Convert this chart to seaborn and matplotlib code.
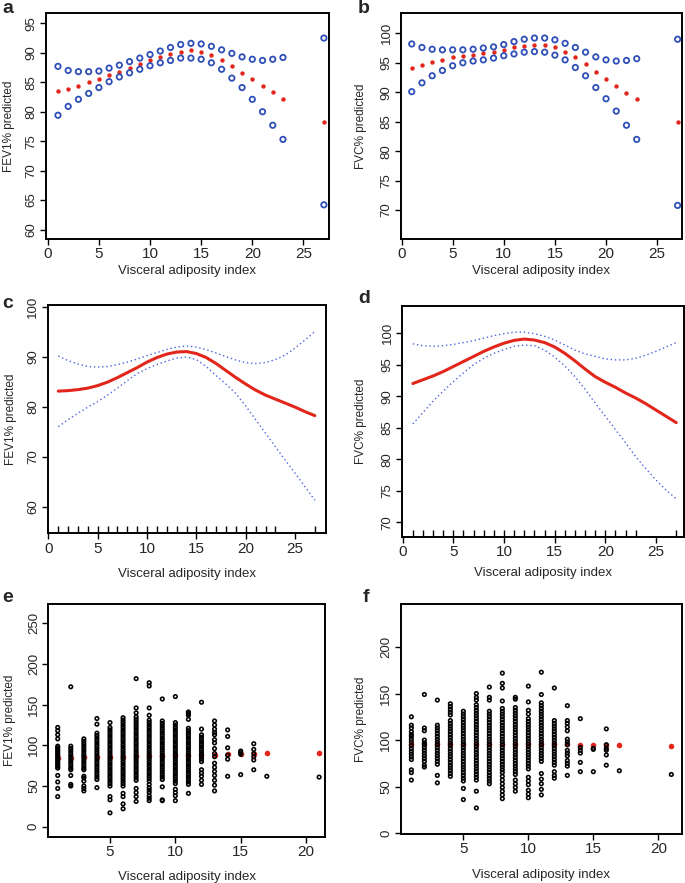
import numpy as np
import pandas as pd
import matplotlib
matplotlib.use("Agg")
import matplotlib.pyplot as plt
import seaborn as sns

sns.set_style("ticks")
plt.rcParams['font.family'] = ['Liberation Sans', 'DejaVu Sans']

RED = "#e3261c"
BLUE = "#2f4fb8"
DOT_BLUE = "#4a64e0"

# ---- panels a / b : estimate and 95% bounds at each VAI value
vai_pts = [1, 2, 3, 4, 5, 6, 7, 8, 9, 10, 11, 12, 13, 14, 15, 16, 17, 18, 19, 20, 21, 22, 23, 27]
fev_hi = [87.7, 87.0, 86.8, 86.8, 86.9, 87.4, 87.9, 88.5, 89.1, 89.7, 90.3, 90.9, 91.4, 91.6, 91.5, 91.1, 90.5, 89.9, 89.3, 88.9, 88.7, 88.9, 89.2, 92.5]
fev_fit = [83.5, 83.9, 84.4, 85.0, 85.5, 86.2, 86.8, 87.4, 88.1, 88.7, 89.2, 89.8, 90.2, 90.4, 90.2, 89.6, 88.8, 87.8, 86.6, 85.5, 84.4, 83.3, 82.2, 78.3]
fev_lo = [79.4, 80.9, 82.1, 83.1, 84.1, 85.1, 85.9, 86.6, 87.2, 87.8, 88.3, 88.7, 89.1, 89.1, 88.9, 88.3, 87.2, 85.7, 84.1, 82.1, 80.0, 77.7, 75.3, 64.2]
fvc_hi = [98.2, 97.6, 97.3, 97.2, 97.2, 97.2, 97.3, 97.5, 97.7, 98.1, 98.6, 99.0, 99.2, 99.2, 98.9, 98.3, 97.6, 96.8, 96.0, 95.5, 95.3, 95.4, 95.7, 99.0]
fvc_fit = [94.1, 94.6, 95.1, 95.5, 95.9, 96.1, 96.4, 96.6, 96.9, 97.2, 97.6, 97.9, 98.1, 98.0, 97.6, 96.9, 95.9, 94.8, 93.5, 92.3, 91.1, 89.9, 88.9, 84.9]
fvc_lo = [90.1, 91.6, 92.8, 93.7, 94.5, 95.0, 95.3, 95.5, 95.8, 96.2, 96.5, 96.8, 96.9, 96.8, 96.3, 95.5, 94.2, 92.8, 90.8, 88.9, 86.8, 84.4, 82.0, 70.8]

# ---- panels c / d : smooth curve with dotted confidence band
vai_curve = list(range(1, 28))
fev_curve = [83.1, 83.2, 83.4, 83.7, 84.2, 84.9, 85.8, 86.8, 87.8, 88.9, 89.8, 90.5, 90.9, 91.0, 90.6, 89.8, 88.6, 87.2, 85.8, 84.5, 83.3, 82.3, 81.5, 80.7, 79.9, 79.0, 78.2]
fev_curve_hi = [90.1, 89.2, 88.5, 88.0, 87.9, 88.0, 88.4, 88.9, 89.5, 90.2, 90.8, 91.4, 91.9, 92.1, 91.9, 91.4, 90.7, 90.0, 89.3, 88.8, 88.6, 88.8, 89.4, 90.3, 91.7, 93.3, 95.0]
fev_curve_lo = [76.0, 77.4, 78.7, 79.9, 81.0, 82.3, 83.7, 85.2, 86.6, 87.6, 88.4, 89.1, 89.7, 89.9, 89.4, 88.0, 86.2, 84.5, 82.6, 80.1, 77.4, 74.7, 72.0, 69.3, 66.7, 64.0, 61.3]
fvc_curve = [92.0, 92.6, 93.2, 93.9, 94.7, 95.5, 96.3, 97.1, 97.8, 98.4, 98.85, 99.05, 98.9, 98.5, 97.8, 96.8, 95.6, 94.3, 93.1, 92.2, 91.4, 90.5, 89.7, 88.8, 87.8, 86.8, 85.8]
fvc_curve_hi = [98.3, 98.0, 97.9, 98.0, 98.2, 98.5, 98.8, 99.2, 99.6, 99.9, 100.15, 100.15, 99.9, 99.5, 98.9, 98.1, 97.3, 96.7, 96.3, 95.9, 95.75, 95.75, 96.0, 96.5, 97.1, 97.8, 98.5]
fvc_curve_lo = [85.6, 87.4, 89.2, 90.8, 92.3, 93.7, 95.0, 96.0, 96.8, 97.4, 97.9, 98.1, 98.0, 97.3, 96.2, 94.8, 93.1, 91.1, 88.9, 86.8, 84.7, 82.6, 80.4, 78.5, 76.7, 75.1, 73.7]
vai_rug = [1, 2, 3, 4, 5, 6, 7, 8, 9, 10, 11, 12, 13, 14, 15, 16, 17, 18, 19, 20, 21, 22, 23, 27]

# ---- panels e / f : raw observations per VAI value and fitted means
vai_obs = [1, 2, 3, 4, 5, 6, 7, 8, 9, 10, 11, 12, 13, 14, 15, 16, 17, 21]
fev_obs = [
    [122, 118, 113, 108, 99, 97, 95, 93, 91, 89, 87, 85, 83, 81, 79, 77, 75, 73, 72, 63, 55, 47, 37],
    [172, 99, 96, 93, 90, 87, 84, 81, 78, 75, 72, 70, 63, 52, 50],
    [108, 105, 102, 99, 96, 93, 90, 87, 84, 81, 78, 75, 72, 70, 62, 60, 56, 50, 47, 44],
    [133, 126, 115, 112, 109, 106, 103, 100, 97, 94, 91, 88, 85, 82, 79, 76, 73, 70, 67, 64, 61, 58, 48],
    [128, 122, 119, 116, 113, 110, 107, 104, 101, 98, 95, 92, 89, 86, 83, 80, 77, 74, 71, 68, 65, 62, 59, 56, 53, 50, 37, 33, 17],
    [134, 131, 128, 125, 122, 119, 116, 113, 110, 107, 104, 101, 98, 95, 92, 89, 86, 83, 80, 77, 74, 71, 68, 65, 62, 59, 56, 53, 50, 41, 37, 28, 22],
    [182, 146, 140, 135, 132, 129, 126, 123, 120, 117, 114, 111, 108, 105, 102, 99, 96, 93, 90, 87, 84, 81, 78, 75, 72, 69, 66, 63, 60, 57, 47, 42, 37, 31],
    [177, 173, 146, 137, 131, 128, 125, 122, 119, 116, 113, 110, 107, 104, 101, 98, 95, 92, 89, 86, 83, 80, 77, 74, 71, 68, 65, 62, 59, 56, 52, 48, 45, 42, 38, 35, 32],
    [157, 130, 127, 124, 121, 118, 115, 112, 109, 106, 103, 100, 97, 94, 91, 88, 85, 82, 79, 76, 73, 70, 67, 64, 61, 58, 49, 33, 32],
    [160, 128, 125, 122, 119, 116, 113, 110, 107, 104, 101, 98, 95, 92, 89, 86, 83, 80, 77, 74, 71, 68, 65, 62, 59, 56, 53, 46, 42, 38, 32],
    [141, 139, 137, 132, 121, 118, 115, 112, 109, 106, 103, 100, 97, 94, 91, 88, 85, 82, 79, 76, 73, 70, 67, 64, 61, 58, 55, 52, 41],
    [153, 120, 113, 110, 107, 104, 101, 98, 95, 92, 89, 86, 83, 80, 70, 66, 62, 57, 52],
    [130, 125, 120, 116, 113, 107, 103, 96, 90, 86, 78, 73, 68, 63, 57, 51, 44],
    [119, 111, 97, 88, 83, 62],
    [93, 91, 89, 64],
    [102, 95, 90, 86, 82, 70],
    [62],
    [61],
]
fev_mean = [84.5, 85.0, 85.3, 85.6, 86.0, 86.3, 86.6, 87.0, 87.3, 87.6, 88.0, 88.3, 88.6, 89.0, 89.5, 89.8, 90.0, 91.0]

fvc_obs = [
    [125, 116, 113, 109, 106, 104, 101, 98, 94, 91, 88, 85, 82, 79, 68, 65, 57],
    [149, 113, 110, 100, 97, 95, 92, 89, 86, 83, 80, 77, 73, 71],
    [143, 116, 113, 110, 107, 104, 101, 98, 95, 92, 89, 86, 83, 80, 77, 74, 62, 54],
    [139, 136, 133, 130, 127, 121, 118, 115, 112, 109, 106, 103, 100, 97, 94, 91, 88, 85, 82, 79, 76, 73, 70, 67, 64, 61],
    [131, 128, 125, 122, 119, 116, 113, 110, 107, 104, 101, 98, 95, 92, 89, 86, 83, 80, 77, 74, 71, 68, 65, 62, 59, 56, 48, 36],
    [150, 146, 143, 138, 135, 132, 129, 126, 123, 120, 117, 114, 111, 108, 105, 102, 99, 96, 93, 90, 87, 84, 81, 78, 75, 72, 69, 66, 63, 60, 57, 45, 27],
    [157, 146, 143, 131, 128, 125, 122, 119, 116, 113, 110, 107, 104, 101, 98, 95, 92, 89, 86, 83, 80, 77, 74, 71, 68, 65, 62, 59, 56, 53],
    [172, 161, 156, 142, 134, 131, 128, 125, 122, 119, 116, 113, 110, 107, 104, 101, 98, 95, 92, 89, 86, 83, 80, 77, 74, 71, 68, 65, 61, 57, 53, 49, 45, 41, 37],
    [146, 144, 135, 132, 129, 126, 123, 120, 117, 114, 111, 108, 105, 102, 99, 96, 93, 90, 87, 84, 81, 78, 75, 72, 69, 66, 63, 57, 53, 49, 45],
    [158, 141, 132, 128, 123, 120, 117, 114, 111, 108, 105, 102, 99, 96, 93, 90, 87, 84, 81, 78, 75, 72, 69, 60, 56, 52, 46, 42, 38],
    [173, 149, 140, 137, 134, 131, 128, 125, 122, 119, 116, 113, 110, 107, 104, 101, 98, 95, 92, 89, 86, 83, 80, 77, 64, 58, 53, 47, 41],
    [156, 121, 118, 115, 112, 109, 106, 103, 100, 97, 94, 91, 88, 85, 82, 79, 76, 73, 66, 62, 59],
    [137, 121, 118, 114, 110, 101, 98, 95, 89, 86, 83, 78, 75, 72, 62],
    [123, 92, 89, 86, 76, 66],
    [91, 90, 66],
    [112, 95, 91, 89, 84, 73],
    [67],
    [63],
]
fvc_mean = [96.3, 96.3, 96.3, 96.3, 96.3, 96.2, 96.2, 96.2, 96.1, 96.1, 96.0, 96.0, 95.5, 95.0, 95.0, 95.0, 94.8, 94.0]

XLABEL = "Visceral adiposity index"


def long_form(xs, cols):
    rows = []
    for x, vals in zip(xs, cols):
        for v in vals:
            rows.append([x, v])
    return pd.DataFrame(rows, columns=["vai", "val"])


def r_style(ax, xlim, ylim, xticks, yticks, ylabel, xlab_y, ylab_x):
    ax.set_xlim(*xlim)
    ax.set_ylim(*ylim)
    ax.set_xticks(xticks)
    ax.set_yticks(yticks)
    for s in ax.spines.values():
        s.set_visible(True)
        s.set_linewidth(1.4)
        s.set_color("black")
    ax.tick_params(axis="both", direction="out", length=4.5, width=1.0, color="black", pad=1.5)
    ax.tick_params(axis="x", labelsize=11)
    ax.tick_params(axis="y", labelsize=9.5)
    for lab in ax.get_yticklabels():
        lab.set_rotation(90)
        lab.set_va("center")
    ax.set_xlabel(XLABEL, fontsize=9.5)
    ax.set_ylabel(ylabel, fontsize=8.5)
    ax.xaxis.set_label_coords(0.5, xlab_y)
    ax.yaxis.set_label_coords(ylab_x, 0.5)


fig = plt.figure(figsize=(6.85, 8.83), dpi=100)

# positions measured in pixels of a 685 x 883 canvas
def add_axes(l, t, r, b):
    return fig.add_axes([l / 685, 1 - b / 883, (r - l) / 685, (b - t) / 883])


ax_a = add_axes(45.7, 13.3, 329, 239)
ax_b = add_axes(401, 13.3, 681.7, 239)
ax_c = add_axes(47.7, 305, 325.7, 533.3)
ax_d = add_axes(402, 306, 684.3, 536.7)
ax_e = add_axes(48.3, 604, 325, 836.7)
ax_f = add_axes(400.7, 604.3, 681.7, 834)

# a / b
for ax, lo, fit, hi, ylim, yticks, ylabel, xlim, lx in [
    (ax_a, fev_lo, fev_fit, fev_hi, (58.4, 96.7), range(60, 96, 5), "FEV1% predicted", (-0.2, 27.5), -0.108),
    (ax_b, fvc_lo, fvc_fit, fvc_hi, (65.1, 103.4), range(70, 101, 5), "FVC% predicted", (-0.05, 27.4), -0.121),
]:
    sns.scatterplot(x=vai_pts, y=fit, ax=ax, color=RED, s=10, linewidth=0, zorder=2)
    sns.scatterplot(x=vai_pts, y=hi, ax=ax, facecolors="none", edgecolor=BLUE, s=15, linewidth=1.3, zorder=3)
    sns.scatterplot(x=vai_pts, y=lo, ax=ax, facecolors="none", edgecolor=BLUE, s=15, linewidth=1.3, zorder=3)
    r_style(ax, xlim, ylim, range(0, 26, 5), yticks, ylabel, -0.115, lx)

# c / d
for ax, lo, fit, hi, ylim, yticks, ylabel, xlim, xly, lx in [
    (ax_c, fev_curve_lo, fev_curve, fev_curve_hi, (54.7, 100.3), range(60, 101, 10), "FEV1% predicted", (-0.07, 28.1), -0.153, -0.11),
    (ax_d, fvc_curve_lo, fvc_curve, fvc_curve_hi, (67.7, 104.3), range(70, 101, 5), "FVC% predicted", (-0.07, 27.8), -0.13, -0.124),
]:
    sns.lineplot(x=vai_curve, y=hi, ax=ax, color=DOT_BLUE, lw=1.0, linestyle=(0, (1, 2)))
    sns.lineplot(x=vai_curve, y=lo, ax=ax, color=DOT_BLUE, lw=1.0, linestyle=(0, (1, 2)))
    sns.lineplot(x=vai_curve, y=fit, ax=ax, color=RED, lw=2.2)
    sns.rugplot(x=vai_rug, ax=ax, height=0.03, color="black", lw=0.9)
    r_style(ax, xlim, ylim, range(0, 26, 5), yticks, ylabel, xly, lx)

# e / f
for ax, cols, means, ylim, yticks, ylabel, xlim, xly, lx in [
    (ax_e, fev_obs, fev_mean, (-12.3, 273.8), range(0, 251, 50), "FEV1% predicted", (0.28, 21.45), -0.146, -0.117),
    (ax_f, fvc_obs, fvc_mean, (-1.0, 246), range(0, 201, 50), "FVC% predicted", (0.18, 21.8), -0.152, -0.12),
]:
    df = long_form(vai_obs, cols)
    sns.scatterplot(x=vai_obs, y=means, ax=ax, color=RED, s=16, linewidth=0, zorder=2)
    sns.scatterplot(data=df, x="vai", y="val", ax=ax, facecolors="none", edgecolor="black", s=6.5, linewidth=1.15, zorder=3)
    r_style(ax, xlim, ylim, [5, 10, 15, 20], yticks, ylabel, xly, lx)

for letter, px, py in [("a", 2, 13), ("b", 358, 13), ("c", 2, 308), ("d", 358, 303), ("e", 2, 602), ("f", 363, 602)]:
    fig.text(px / 685, 1 - py / 883, letter, fontsize=14, fontweight="bold", va="baseline", ha="left")

fig.savefig("out.png", dpi=100)
